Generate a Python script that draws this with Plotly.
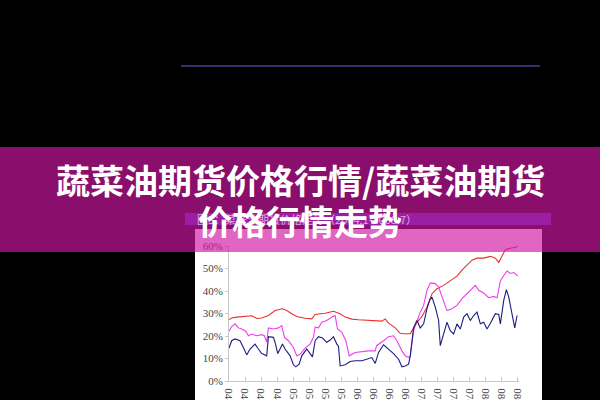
import plotly.graph_objects as go

# ---- data (x = months since 2004-01) ----
red_m = [0, 0.5, 1.44, 3, 4.25, 5.19, 6.13, 7.38, 8.63, 10, 10.81, 11.75, 12.69, 14.25, 15.5, 16.13,
         17.06, 18, 19.56, 20.81, 21.75, 23, 24.25, 26.13, 27.38, 28.63, 29.25, 29.88, 31.13, 32.06,
         32.69, 33.94, 34.56, 35.19, 36.13, 37.06, 38, 38.94, 40.19, 41.44, 42.69, 43.63, 44.56, 45.5,
         46.44, 47.69, 48.94, 49.88, 50.5, 51.13, 51.75, 52.69, 53.63, 54.06]
red_v = [27.2, 28, 28.4, 28.7, 29, 27.8, 28, 29.1, 31.3, 32.1, 31.3, 29.9, 28.7, 27.9, 27.6, 29.6,
         29.9, 30.1, 31, 29.9, 28.4, 27.5, 27.2, 26.9, 26.6, 26.6, 27.6, 25.7, 23.6, 21.2,
         21, 21, 23.6, 26.1, 28.7, 32.8, 38.8, 41, 42.5, 44.5, 46.6, 49.3, 51.5, 53.7,
         54.6, 54.6, 55.4, 54.6, 52.7, 55.7, 58.4, 59, 59.4, 60]

mag_m = [0, 0.5, 1.13, 1.75, 2.38, 3.13, 3.63, 4.25, 5.19, 6.13, 6.63, 7.06, 7.38, 8.31, 9.25, 9.88,
         10.38, 11.13, 12.06, 12.69, 13.31, 14.25, 15.19, 15.81, 16.13, 16.75, 17.38, 18.31, 19.25,
         19.88, 20.31, 21.13, 21.88, 22.5, 23.63, 24.88, 26.13, 27.38, 27.63, 28.94, 29.88, 30.81,
         31.44, 32.38, 33, 33.63, 33.94, 34.56, 35.19, 35.81, 36.44, 37.06, 37.69, 38.63, 39.25,
         39.88, 40.81, 41.75, 42.69, 43.63, 44.56, 45.5, 46.13, 46.75, 47.69, 48.63, 49.56, 50.19,
         50.81, 51.44, 52.06, 52.69, 53.31, 54.06]
mag_v = [22.1, 24.2, 25.4, 23.6, 23.1, 22.1, 20.1, 20.9, 20.1, 20.6, 20.1, 17.2, 23.6, 23.1, 23.6, 24.6,
         19.4, 17.9, 14.9, 11.2, 11.9, 14.6, 16.4, 19.4, 23.9, 23.6, 26.1, 26.9, 28.4,
         29.1, 23.1, 21.6, 17.9, 11.2, 12.7, 13.1, 13.4, 13.4, 15.7, 17.9, 19.7, 20.1,
         17.9, 13.4, 11.2, 10.4, 11.2, 22.4, 26.9, 30.6, 33.6, 40.3, 43.6, 43.3, 41.8,
         37.3, 31.3, 32.1, 33.6, 36.6, 38.8, 41, 42.5, 40.3, 39.1, 37, 37.6, 37,
         44.5, 46.9, 48.9, 47.8, 48.2, 46.7]

navy_m = [0, 0.5, 1.13, 2.06, 2.69, 3.31, 3.94, 4.88, 5.5, 6.13, 6.75, 7.06, 7.38, 8.31, 8.63, 9.13,
          9.56, 10, 10.5, 11.44, 12.06, 12.5, 13.13, 13.63, 14.56, 15.19, 15.63, 16.13, 16.75, 17.5,
          18.31, 18.94, 19.56, 20.19, 20.5, 20.81, 21.75, 22.69, 23.63, 24.88, 25.81, 26.75, 27.38,
          28, 28.94, 29.88, 30.81, 31.75, 32.38, 33, 33.63, 33.94, 34.56, 35.19, 35.81, 36.44,
          37.06, 37.56, 38, 38.63, 39.25, 39.56, 40.19, 40.81, 41.44, 42.06, 42.69, 43.31, 43.94,
          44.56, 45.19, 45.81, 46.44, 47.06, 47.69, 48.31, 48.94, 49.88, 50.5, 50.81, 51.44, 51.94,
          52.38, 53, 53.5, 53.94]
navy_v = [14.6, 17.9, 18.7, 17.9, 14.9, 11.6, 14.2, 16.4, 14.2, 12.2, 11.6, 11.2, 19.7, 19.4, 17.2, 12.2,
          14.2, 16.4, 14.2, 11.2, 7.2, 6.3, 7.5, 11.2, 14.2, 11.9, 10.7, 17.9, 19.7, 19.1,
          17.2, 18.2, 19.7, 16.4, 15.5, 6.7, 7.2, 8.7, 9, 9, 9.7, 10.4, 7.8,
          12.7, 16.1, 14.2, 12.2, 9.7, 6.3, 6.7, 7.5, 11.2, 23.6, 26.9, 23.6, 25.4,
          32.1, 35.8, 37.3, 32.8, 26.9, 15.7, 20.9, 26.1, 22.4, 20.9, 25.4, 23.1, 28.4,
          29.9, 26.9, 29.1, 30.6, 25.4, 26.1, 23.1, 25.7, 29.9, 29.6, 25.4, 35.8, 40.6,
          37.3, 29.9, 23.6, 29.1]

tick_months = list(range(0, 55, 3))
tick_text = ["04-01", "04-04", "04-07", "04-10", "05-01", "05-04", "05-07", "05-10",
             "06-01", "06-04", "06-07", "06-10", "07-01", "07-04", "07-07", "07-10",
             "08-01", "08-04", "08-07"]
y_ticks = [0, 10, 20, 30, 40, 50, 60]
y_text = ["0%", "10%", "20%", "30%", "40%", "50%", "60%"]

title_line1 = "蔬菜油期货价格行情/蔬菜油期货"
title_line2 = "价格行情走势"
chart_caption = "图3：菜籽油期货价格走势（2004.1-2008.7）"

W, H = 600, 400
def px(x): return x / W
def py(y): return (H - y) / H

fig = go.Figure()
fig.add_trace(go.Scatter(x=red_m, y=red_v, mode="lines", line=dict(color="#e8312f", width=1.1)))
fig.add_trace(go.Scatter(x=mag_m, y=mag_v, mode="lines", line=dict(color="#f03cf0", width=1.1)))
fig.add_trace(go.Scatter(x=navy_m, y=navy_v, mode="lines", line=dict(color="#1c1c80", width=1.1)))

shapes = [
    dict(type="rect", xref="paper", yref="paper", x0=px(195), x1=px(542), y0=-0.2, y1=py(229),
         fillcolor="white", line=dict(width=0), layer="below"),
    dict(type="rect", xref="paper", yref="paper", x0=px(185), x1=px(551), y0=py(225), y1=py(213),
         fillcolor="#3232a0", line=dict(width=0), layer="below"),
    dict(type="line", xref="paper", yref="paper", x0=px(181), x1=px(540), y0=py(66), y1=py(66),
         line=dict(color="#32326c", width=2), layer="below"),
    dict(type="rect", xref="paper", yref="paper", x0=0, x1=1, y0=py(252), y1=py(147),
         fillcolor="rgba(210,22,162,0.66)", line=dict(width=0), layer="above"),
]

annotations = [
    dict(text=chart_caption, xref="paper", yref="paper", x=px(195), y=py(219), xanchor="left",
         yanchor="middle", showarrow=False, font=dict(family="Noto Sans CJK SC", size=11, color="#e3a6e0")),
    dict(text=title_line1, xref="paper", yref="paper", x=0.5, y=py(180), xanchor="center",
         yanchor="middle", showarrow=False,
         font=dict(family="Noto Sans CJK SC", size=34, color="white", weight="bold")),
    dict(text=title_line2, xref="paper", yref="paper", x=0.5, y=py(220), xanchor="center",
         yanchor="middle", showarrow=False,
         font=dict(family="Noto Sans CJK SC", size=34, color="white", weight="bold")),
]

fig.update_layout(
    width=W, height=H,
    margin=dict(l=0, r=0, t=0, b=0),
    paper_bgcolor="black",
    plot_bgcolor="rgba(0,0,0,0)",
    showlegend=False,
    shapes=shapes,
    annotations=annotations,
    xaxis=dict(domain=[px(229), px(519)], range=[0, 54.3], tickvals=tick_months, ticktext=tick_text,
               tickangle=90, showgrid=False, zeroline=False, showline=True, linecolor="#c8c8c8",
               linewidth=1, ticks="inside", ticklen=4, tickcolor="#c8c8c8", automargin=False,
               ticklabelstandoff=4,
               tickfont=dict(family="Liberation Serif", size=11, color="#444")),
    yaxis=dict(domain=[1 - 381 / H, 1 - 246 / H], range=[0, 60], tickvals=y_ticks, ticktext=y_text,
               showgrid=False, zeroline=False, showline=True, linecolor="#c8c8c8", linewidth=1,
               ticks="outside", ticklen=3, tickcolor="#c8c8c8", automargin=False,
               tickfont=dict(family="Liberation Serif", size=11, color="#444")),
)

fig.write_html("out.html", config={"displayModeBar": False},
               post_script="document.body.style.margin='0';document.body.style.background='black';")
